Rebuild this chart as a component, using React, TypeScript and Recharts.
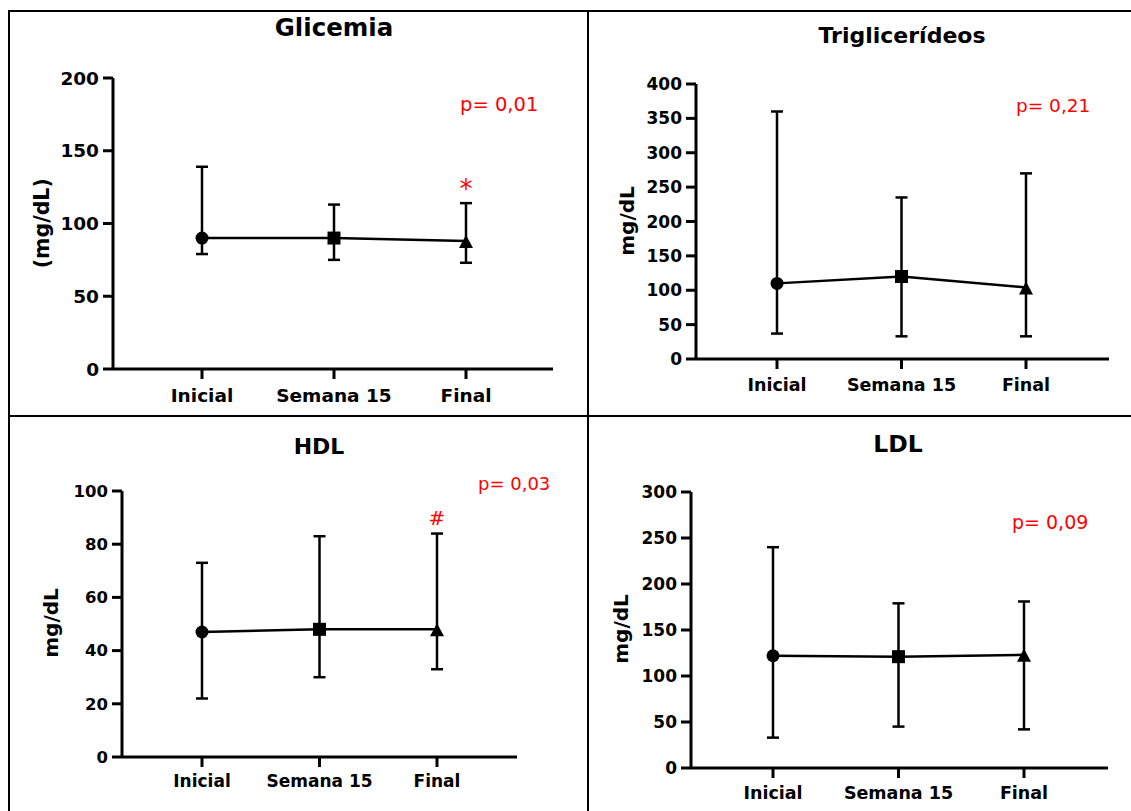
import React from "react";
import { LineChart, Line, XAxis, YAxis, ErrorBar, ReferenceDot } from "recharts";

const CATEGORIES = ["Inicial", "Semana 15", "Final"];

const GLICEMIA_MEAN = [90, 90, 88];
const GLICEMIA_LOW = [79, 75, 73];
const GLICEMIA_HIGH = [139, 113, 114];
const GLICEMIA_TICKS = [0, 50, 100, 150, 200];

const TRIG_MEAN = [110, 120, 104];
const TRIG_LOW = [37, 33, 33];
const TRIG_HIGH = [360, 235, 270];
const TRIG_TICKS = [0, 50, 100, 150, 200, 250, 300, 350, 400];

const HDL_MEAN = [47, 48, 48];
const HDL_LOW = [22, 30, 33];
const HDL_HIGH = [73, 83, 84];
const HDL_TICKS = [0, 20, 40, 60, 80, 100];

const LDL_MEAN = [122, 121, 123];
const LDL_LOW = [33, 45, 42];
const LDL_HIGH = [240, 179, 181];
const LDL_TICKS = [0, 50, 100, 150, 200, 250, 300];

const FONT = "'DejaVu Sans', sans-serif";
const RED = "#ff0000";

function buildRows(mean: number[], low: number[], high: number[]) {
  return CATEGORIES.map((name, i) => ({
    name,
    mean: mean[i],
    err: [mean[i] - low[i], high[i] - mean[i]],
  }));
}

function Marker(props: any) {
  const { cx, cy, index } = props;
  if (cx == null || cy == null) return null;
  if (index === 0) return <circle cx={cx} cy={cy} r={6.5} fill="#000" />;
  if (index === 1) return <rect x={cx - 6.5} y={cy - 6.5} width={13} height={13} fill="#000" />;
  return (
    <polygon
      points={`${cx},${cy - 6} ${cx - 7},${cy + 7} ${cx + 7},${cy + 7}`}
      fill="#000"
    />
  );
}

type PanelProps = {
  axisX: number;
  plotRight: number;
  plotTop: number;
  plotBottom: number;
  ticks: number[];
  rows: { name: string; mean: number; err: number[] }[];
  padLeft: number;
  padRight: number;
  yFont: number;
  xFont: number;
  xMargin: number;
  mark?: { symbol: string; y: number; size: number };
};

function Panel({ axisX, plotRight, plotTop, plotBottom, ticks, rows, padLeft, padRight, yFont, xFont, xMargin, mark }: PanelProps) {
  const yW = 90;
  const left = axisX - yW;
  const top = plotTop - 20;
  const width = plotRight - axisX + yW + 10;
  const height = plotBottom - plotTop + 70;
  const axisStyle = { stroke: "#000", strokeWidth: 3 };
  return (
    <div style={{ position: "absolute", left, top }}>
      <LineChart width={width} height={height} data={rows} margin={{ top: 20, right: 10, left: 0, bottom: 0 }}>
        <XAxis
          dataKey="name"
          interval={0}
          padding={{ left: padLeft, right: padRight }}
          height={50}
          tickSize={10}
          tickMargin={xMargin}
          axisLine={axisStyle}
          tickLine={axisStyle}
          tick={{ fill: "#000", fontFamily: FONT, fontWeight: "bold", fontSize: xFont }}
        />
        <YAxis
          type="number"
          domain={[0, ticks[ticks.length - 1]]}
          ticks={ticks}
          interval={0}
          width={yW}
          tickSize={10}
          tickMargin={4}
          axisLine={axisStyle}
          tickLine={axisStyle}
          tick={{ fill: "#000", fontFamily: FONT, fontWeight: "bold", fontSize: yFont }}
        />
        <Line
          dataKey="mean"
          stroke="#000"
          strokeWidth={2.5}
          isAnimationActive={false}
          dot={(p: any) => <Marker key={`m-${p.index}`} {...p} />}
          activeDot={false}
        >
          <ErrorBar dataKey="err" direction="y" width={6} stroke="#000" strokeWidth={2.5} isAnimationActive={false} />
        </Line>
        {mark && (
          <ReferenceDot
            x="Final"
            y={mark.y}
            r={0}
            fill="none"
            stroke="none"
            label={{ value: mark.symbol, position: "center", fill: RED, fontSize: mark.size, fontFamily: FONT }}
          />
        )}
      </LineChart>
    </div>
  );
}

function Title({ text, x, y, size }: { text: string; x: number; y: number; size: number }) {
  return (
    <div
      style={{
        position: "absolute",
        left: x - 200,
        width: 400,
        top: y - size / 2,
        textAlign: "center",
        fontFamily: FONT,
        fontWeight: "bold",
        fontSize: size,
        lineHeight: 1,
        color: "#000",
      }}
    >
      {text}
    </div>
  );
}

function PValue({ text, x, y, size }: { text: string; x: number; y: number; size: number }) {
  return (
    <div
      style={{
        position: "absolute",
        left: x,
        top: y - size / 2,
        fontFamily: FONT,
        fontSize: size,
        lineHeight: 1,
        color: RED,
        whiteSpace: "nowrap",
      }}
    >
      {text}
    </div>
  );
}

function YLabel({ text, x, y, size }: { text: string; x: number; y: number; size: number }) {
  return (
    <div
      style={{
        position: "absolute",
        left: x - 100,
        top: y - size / 2,
        width: 200,
        textAlign: "center",
        fontFamily: FONT,
        fontWeight: "bold",
        fontSize: size,
        lineHeight: 1,
        transform: "rotate(-90deg)",
        color: "#000",
      }}
    >
      {text}
    </div>
  );
}

const line = (left: number, top: number, width: number, height: number) => (
  <div style={{ position: "absolute", left, top, width, height, background: "#000" }} />
);

export default function App() {
  return (
    <div style={{ position: "absolute", left: 0, top: 0, width: 1131, height: 811, background: "#fff", overflow: "hidden" }}>
      {line(8, 10, 1123, 2)}
      {line(8, 10, 2, 801)}
      {line(587, 10, 2, 801)}
      {line(8, 415, 1123, 2)}

      <Title text="Glicemia" x={334} y={28} size={24.5} />
      <Title text="Triglicerídeos" x={902} y={36} size={22} />
      <Title text="HDL" x={319} y={447} size={22} />
      <Title text="LDL" x={898} y={445} size={23.5} />

      <YLabel text="(mg/dL)" x={42} y={223} size={20.5} />
      <YLabel text="mg/dL" x={627} y={221} size={20} />
      <YLabel text="mg/dL" x={51} y={623} size={20} />
      <YLabel text="mg/dL" x={621} y={629} size={20} />

      <Panel
        axisX={113}
        plotRight={553}
        plotTop={78}
        plotBottom={369}
        ticks={GLICEMIA_TICKS}
        rows={buildRows(GLICEMIA_MEAN, GLICEMIA_LOW, GLICEMIA_HIGH)}
        padLeft={89}
        padRight={87}
        yFont={18.5}
        xFont={18.5}
        xMargin={10}
        mark={{ symbol: "*", y: 124, size: 26 }}
      />
      <Panel
        axisX={696}
        plotRight={1109}
        plotTop={84}
        plotBottom={359}
        ticks={TRIG_TICKS}
        rows={buildRows(TRIG_MEAN, TRIG_LOW, TRIG_HIGH)}
        padLeft={81}
        padRight={83}
        yFont={17}
        xFont={17.5}
        xMargin={10}
      />
      <Panel
        axisX={122}
        plotRight={517}
        plotTop={491}
        plotBottom={757}
        ticks={HDL_TICKS}
        rows={buildRows(HDL_MEAN, HDL_LOW, HDL_HIGH)}
        padLeft={80}
        padRight={80}
        yFont={16.5}
        xFont={17}
        xMargin={8}
        mark={{ symbol: "#", y: 90, size: 20 }}
      />
      <Panel
        axisX={691}
        plotRight={1108}
        plotTop={492}
        plotBottom={768}
        ticks={LDL_TICKS}
        rows={buildRows(LDL_MEAN, LDL_LOW, LDL_HIGH)}
        padLeft={82}
        padRight={84}
        yFont={17}
        xFont={17.5}
        xMargin={9}
      />

      <PValue text="p= 0,01" x={460} y={105} size={19.5} />
      <PValue text="p= 0,21" x={1016} y={106} size={18.5} />
      <PValue text="p= 0,03" x={478} y={484} size={18} />
      <PValue text="p= 0,09" x={1012} y={522} size={19} />
    </div>
  );
}
